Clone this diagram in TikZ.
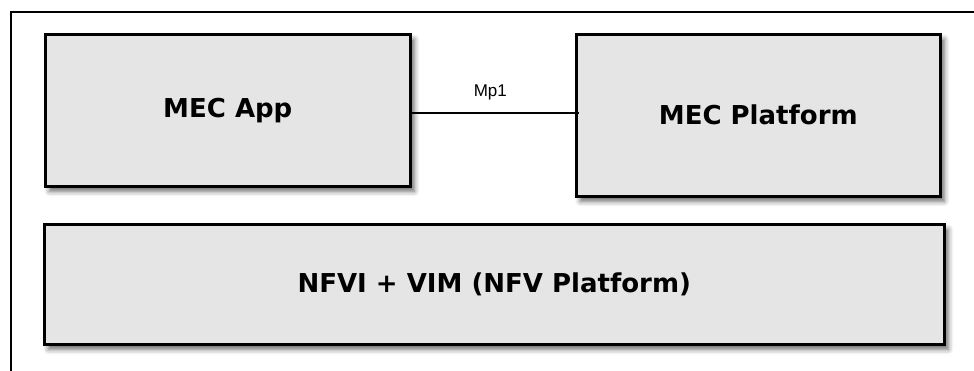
\documentclass[tikz,border=0pt]{standalone}
\usepackage{fontspec}
\usetikzlibrary{shadows.blur}
\newfontfamily\boxfont{DejaVu Sans}
\newfontfamily\ifacefont{Liberation Sans}
\definecolor{boxgray}{HTML}{E5E5E5}
\tikzset{
  block/.style={draw=black, line width=2.6pt, fill=boxgray, rectangle,
    inner sep=0pt, anchor=north west,
    font=\boxfont\bfseries\fontsize{26}{30}\selectfont,
    blur shadow={shadow xshift=4pt, shadow yshift=-5pt, shadow blur radius=5pt,
      shadow opacity=60}},
  iface/.style={draw=black, line width=2pt},
  ifacelabel/.style={font=\ifacefont\fontsize{17}{20}\selectfont, inner sep=0pt}
}
\begin{document}
\begin{tikzpicture}[x=1pt, y=-1pt]
  \useasboundingbox (0,0) rectangle (974,371);
  % enclosing frame, open towards the right and bottom
  \draw[line width=2.4pt] (980,12) -- (11,12) -- (11,380);
  % functional blocks
  \node[block, minimum width=365pt, minimum height=152pt] (app) at (44,33) {MEC App};
  \node[block, minimum width=364pt, minimum height=162pt] (plat) at (575,33) {MEC Platform};
  \node[block, minimum width=900pt, minimum height=120pt] (nfv) at (43,223) {NFVI + VIM (NFV Platform)};
  % Mp1 reference point
  \coordinate (mpend) at ([xshift=4pt]plat.west |- 0,113);
  \draw[iface] (app.east |- 0,113) -- (mpend)
    node[ifacelabel, midway, above=12pt, xshift=-5pt] {Mp1};
\end{tikzpicture}
\end{document}
